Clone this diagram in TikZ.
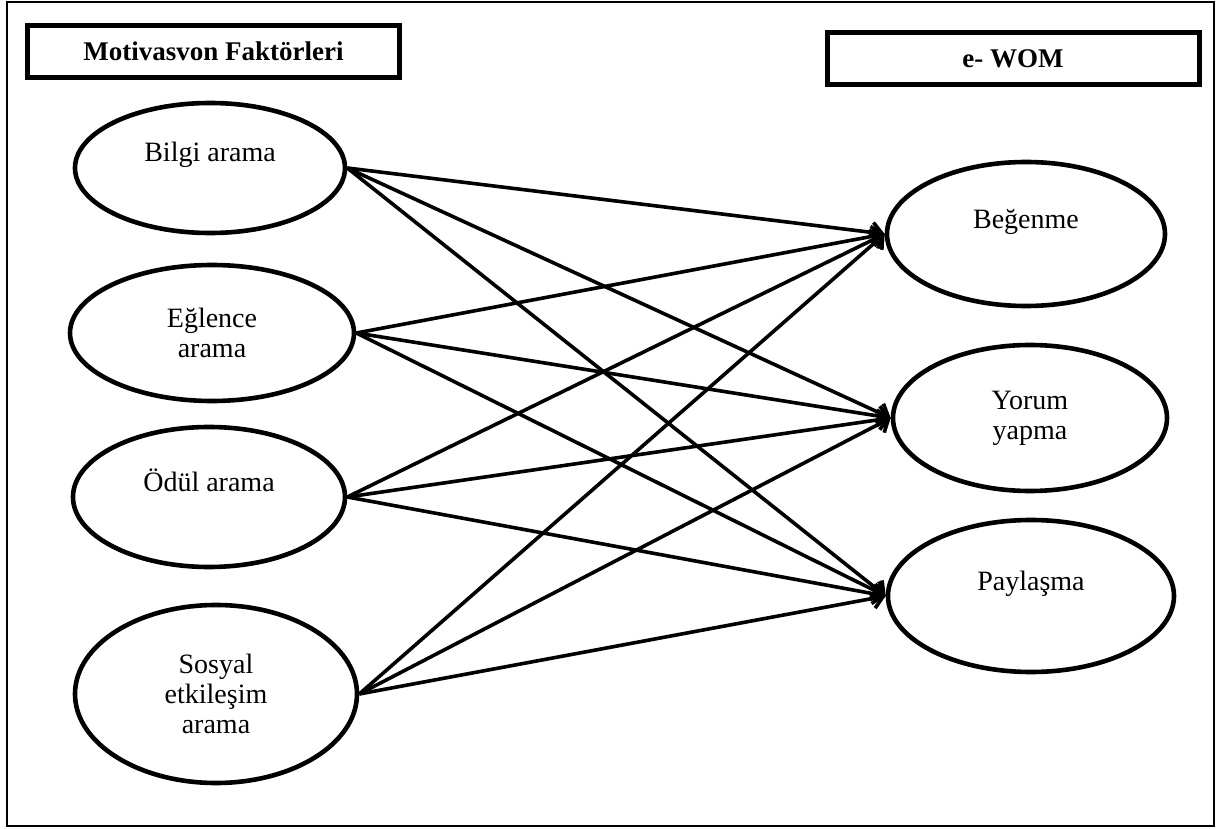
\documentclass[tikz,border=0pt]{standalone}
\usepackage{fontspec}
\setmainfont{Liberation Serif}
\usetikzlibrary{shapes.geometric,arrows.meta}

\begin{document}
\begin{tikzpicture}[x=0.5pt,y=-0.5pt,
  baslik/.style={draw,line width=2.5pt,font=\bfseries\fontsize{13.5}{15}\selectfont,
    minimum width=186pt,minimum height=26pt,inner sep=0pt},
  faktor/.style={ellipse,draw,line width=2.3pt,align=center,
    font=\fontsize{14}{15}\selectfont,inner sep=0pt},
  ustsatir/.style={text height=9pt,text depth=15pt},
  ok/.style={line width=1.8pt,-{Straight Barb[length=5pt,width=10pt]}}]
\useasboundingbox (0,0) rectangle (1217,829);
% outer frame
\draw[line width=1pt] (7,2) rectangle (1214,826);
% headings
\node[baslik] (motiv) at (213.5,51.5) {Motivasvon Faktörleri};
\node[baslik] (ewom) at (1013,58.5) {e- WOM};
% motivation factors (left)
\node[faktor,ustsatir,minimum width=135pt,minimum height=65pt] (bilgi) at (210,168) {Bilgi arama};
\node[faktor,minimum width=142pt,minimum height=68pt] (eglence) at (212,333) {Eğlence\\arama};
\node[faktor,ustsatir,minimum width=136pt,minimum height=70pt] (odul) at (209,497) {Ödül arama};
\node[faktor,minimum width=141pt,minimum height=89pt] (sosyal) at (216,694) {Sosyal\\etkileşim\\arama};
% e-WOM (right)
\node[faktor,ustsatir,minimum width=139pt,minimum height=72pt] (begenme) at (1026,234) {Beğenme};
\node[faktor,minimum width=137pt,minimum height=73pt] (yorum) at (1030,418) {Yorum\\yapma};
\node[faktor,ustsatir,minimum width=143pt,minimum height=76pt] (paylasma) at (1031,596) {Paylaşma};
% every factor to every e-WOM form
\foreach \from in {bilgi,eglence,odul,sosyal}
  \foreach \to in {begenme,yorum,paylasma}
    \draw[ok] (\from.east) -- (\to.west);
\end{tikzpicture}
\end{document}
